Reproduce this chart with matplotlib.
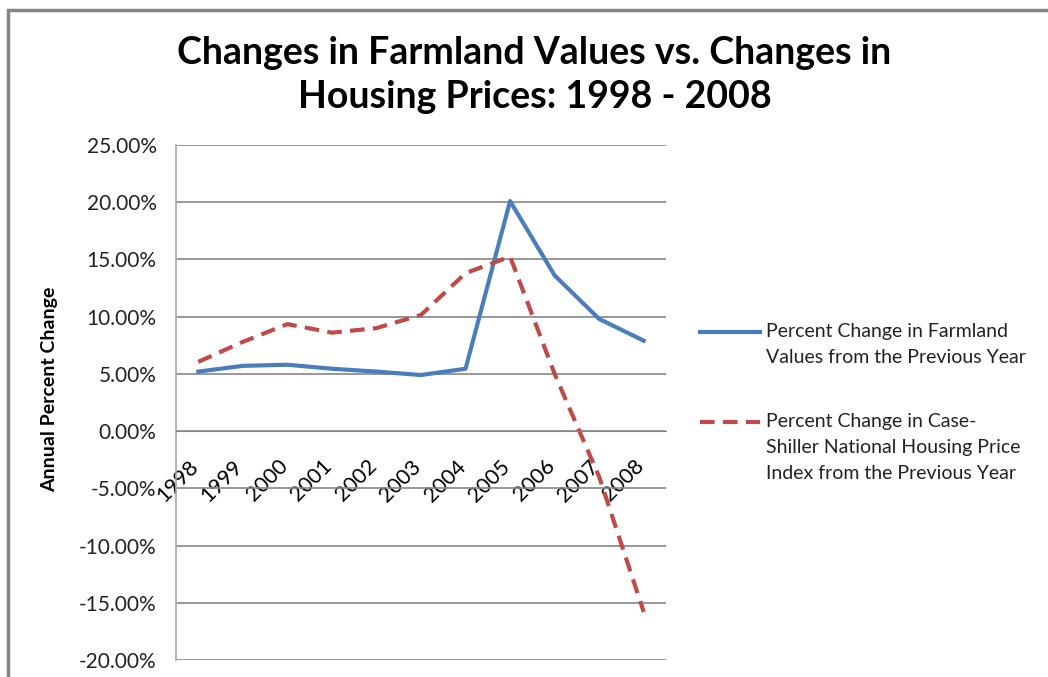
import matplotlib.pyplot as plt
from matplotlib.lines import Line2D
from matplotlib.patches import Rectangle
from matplotlib.ticker import FuncFormatter
from matplotlib.transforms import ScaledTranslation

years = ["1998", "1999", "2000", "2001", "2002", "2003", "2004", "2005", "2006", "2007", "2008"]
farmland = [5.2, 5.7, 5.8, 5.45, 5.2, 4.9, 5.45, 20.1, 13.6, 9.8, 7.9]
case_shiller = [6.05, 7.8, 9.35, 8.6, 9.0, 10.15, 13.8, 15.25, 5.0, -4.0, -15.8]

labels = ["Percent Change in Farmland\nValues from the Previous Year",
          "Percent Change in Case-\nShiller National Housing Price\nIndex from the Previous Year"]
colors = ["#4a7ebb", "#be4b48"]
styles = ["-", (0, (3.5, 2))]

plt.rcParams["font.family"] = ["Lato", "DejaVu Sans"]

W, H = 1048, 677
fig = plt.figure(figsize=(W / 100, H / 100), dpi=100)
ax = fig.add_axes([176 / W, 1 - 660 / H, 490 / W, 515 / H])

x = list(range(len(years)))
ax.plot(x, farmland, color=colors[0], linewidth=3, linestyle=styles[0])
ax.plot(x, case_shiller, color=colors[1], linewidth=3, linestyle=styles[1])

ax.set_xlim(-0.5, len(years) - 0.5)
ax.set_ylim(-20, 25)
ax.set_yticks(range(-20, 26, 5))
ax.yaxis.set_major_formatter(FuncFormatter(lambda v, p: f"{v:.2f}%"))
ax.grid(axis="y", color="#868686", linewidth=1.2)
ax.set_axisbelow(True)

ax.spines["bottom"].set_position(("data", 0))
ax.spines["bottom"].set_color("#868686")
ax.spines["top"].set_visible(False)
ax.spines["right"].set_visible(False)
ax.spines["left"].set_color("#a6a6a6")
ax.spines["left"].set_linewidth(1.2)

ax.set_xticks(x)
ax.set_xticklabels(years)
ax.tick_params(axis="x", length=0, pad=18, labelsize=15.5, labelrotation=45)
shift = ScaledTranslation(4 / 100, 0, fig.dpi_scale_trans)
for lab in ax.get_xticklabels():
    lab.set_ha("right")
    lab.set_va("top")
    lab.set_transform(lab.get_transform() + shift)
ax.tick_params(axis="y", length=0, pad=14, labelsize=15, labelcolor="#222222")

ax.set_ylabel("Annual Percent Change", fontsize=14, fontweight="bold")
ax.yaxis.set_label_coords(-0.24, 0.525)

fig.text(0.51, 1 - 75 / H, "Changes in Farmland Values vs. Changes in\nHousing Prices: 1998 - 2008",
         ha="center", va="center", fontsize=27, fontweight="bold", linespacing=1.35)

# legend, handles aligned with the first line of each label
for lab, c, ls, ytop in zip(labels, colors, styles, [332, 422]):
    fig.add_artist(Line2D([700 / W, 760 / W], [1 - ytop / H] * 2, color=c,
                          linewidth=3, linestyle=ls, transform=fig.transFigure))
    fig.text(766 / W, 1 - (ytop - 9) / H, lab, ha="left", va="top", fontsize=14,
             color="#222222", linespacing=1.65)

fig.patches.append(Rectangle((8 / W, -0.1), 1.2, 1 - 10 / H + 0.1,
                             transform=fig.transFigure, fill=False,
                             edgecolor="#868686", linewidth=2.5))

fig.savefig("out.png", dpi=100)
